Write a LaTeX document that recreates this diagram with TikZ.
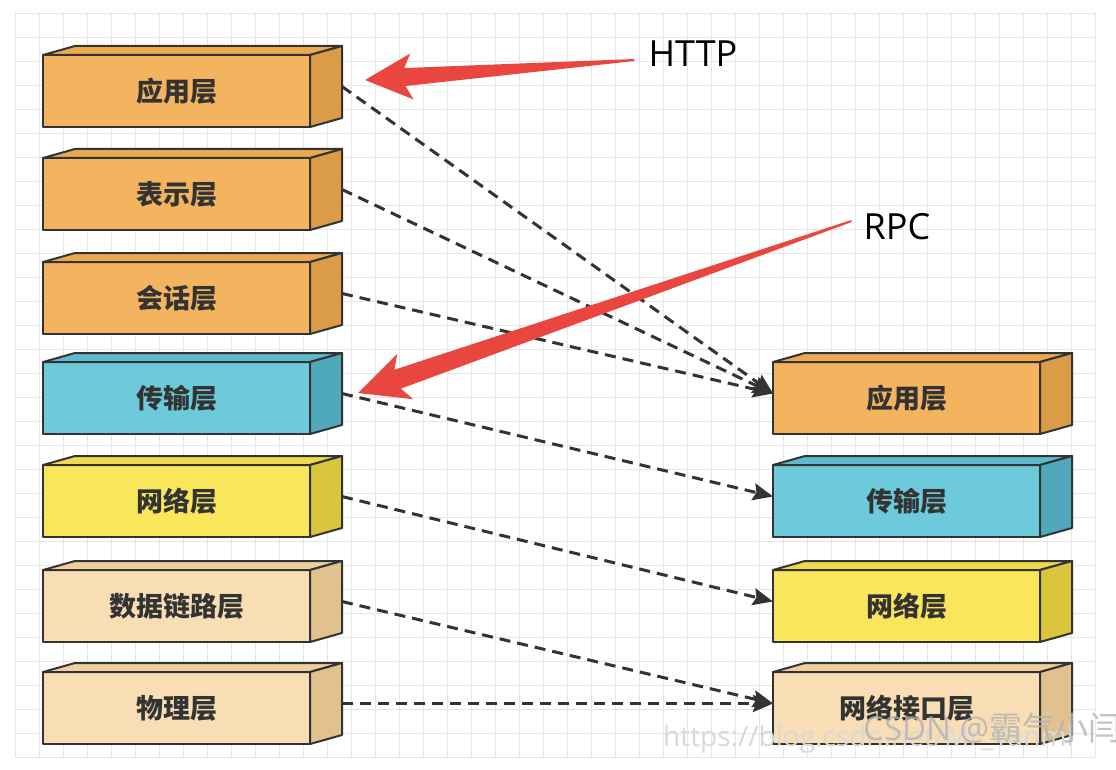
\documentclass[tikz,border=0pt]{standalone}
\usepackage{fontspec}
\usetikzlibrary{arrows.meta,calc}
\newfontfamily\cjk{Noto Sans CJK SC}
\newfontfamily\latin{Open Sans}
\definecolor{edge}{HTML}{333333}
\definecolor{gridc}{HTML}{E6E6E6}
\definecolor{redc}{HTML}{E8463F}
\definecolor{orfront}{HTML}{F4B45F}
\definecolor{ortop}{HTML}{EBA94F}
\definecolor{orside}{HTML}{DB9C47}
\definecolor{blfront}{HTML}{6DCADB}
\definecolor{bltop}{HTML}{5DBBCD}
\definecolor{blside}{HTML}{4FA9BA}
\definecolor{yefront}{HTML}{F9E65A}
\definecolor{yetop}{HTML}{EDD94B}
\definecolor{yeside}{HTML}{D9C63D}
\definecolor{befront}{HTML}{F8DDB5}
\definecolor{betop}{HTML}{EFCFA0}
\definecolor{beside}{HTML}{E1C28F}
\tikzset{
  gridline/.style={draw=gridc, line width=0.9pt},
  layerfront/.style={draw=edge, line width=2pt, line join=round, minimum width=267pt, minimum height=72pt,
    inner sep=0pt, outer sep=0pt, text=edge, font=\cjk\bfseries\fontsize{27}{30}\selectfont},
  boxedge/.style={draw=edge, line width=2pt, line join=round},
  conn/.style={draw=edge, line width=3pt, dash pattern=on 11pt off 7pt, -{Stealth[length=20pt,width=17pt,inset=3pt]}},
  redarr/.style={fill=redc},
  lbl/.style={text=black, font=\latin\fontsize{36}{40}\selectfont, inner sep=0pt},
}
\newcommand\layerbox[5]{%
  \node[layerfront, fill=#4front] (#1) at (#2,#3) {#5};
  \filldraw[boxedge, fill=#4top] (#1.north west) -- ++(32,-9) -- ($(#1.north east)+(32,-9)$) -- (#1.north east) -- cycle;
  \filldraw[boxedge, fill=#4side] (#1.north east) -- ++(32,-9) -- ($(#1.south east)+(32,-9)$) -- (#1.south east) -- cycle;
}
\newcommand\taperarrow[6]{% tail, tip, join dist, barb dist, shaft half, barb half
  \fill[redarr]
    ($(#1)!1pt!-90:(#2)$) --
    ($($(#2)!#3!(#1)$)!#5!90:(#1)$) --
    ($($(#2)!#4!(#1)$)!#6!90:(#1)$) --
    (#2) --
    ($($(#2)!#4!(#1)$)!#6!-90:(#1)$) --
    ($($(#2)!#3!(#1)$)!#5!-90:(#1)$) --
    ($(#1)!1pt!90:(#2)$) -- cycle;
}
\begin{document}
\begin{tikzpicture}[x=1pt,y=-1pt]
\useasboundingbox (0,0) rectangle (1116,770);
\fill[white] (0,0) rectangle (1116,770);
% grid
\foreach \i in {0,...,45} \draw[gridline] ({15+24*\i},13) -- ({15+24*\i},757);
\foreach \j in {0,...,31} \draw[gridline] (15,{13+24*\j}) -- (1095,{13+24*\j});
% left stack
\layerbox{L1}{176.5}{91}{or}{应用层}
\layerbox{L2}{176.5}{194}{or}{表示层}
\layerbox{L3}{176.5}{298}{or}{会话层}
\layerbox{L4}{176.5}{398}{bl}{传输层}
\layerbox{L5}{176.5}{501}{ye}{网络层}
\layerbox{L6}{176.5}{606}{be}{数据链路层}
\layerbox{L7}{176.5}{708}{be}{物理层}
% right stack
\layerbox{R1}{906.5}{398}{or}{应用层}
\layerbox{R2}{906.5}{501}{bl}{传输层}
\layerbox{R3}{906.5}{606}{ye}{网络层}
\layerbox{R4}{906.5}{708}{be}{网络接口层}
% connectors
\draw[conn] ($(L1.east)+(32,-4.5)$) -- ($(R1.west)+(0,-4.5)$);
\draw[conn] ($(L2.east)+(32,-4.5)$) -- ($(R1.west)+(0,-4.5)$);
\draw[conn] ($(L3.east)+(32,-4.5)$) -- ($(R1.west)+(0,-4.5)$);
\draw[conn] ($(L4.east)+(32,-4.5)$) -- ($(R2.west)+(0,-4.5)$);
\draw[conn] ($(L5.east)+(32,-4.5)$) -- ($(R3.west)+(0,-4.5)$);
\draw[conn] ($(L6.east)+(32,-4.5)$) -- ($(R4.west)+(0,-4.5)$);
\draw[conn] ($(L7.east)+(32,-4.5)$) -- ($(R4.west)+(0,-4.5)$);
% labels and red arrows
\node[lbl] (http) at (693,54) {HTTP};
\node[lbl] (rpc) at (897,227) {RPC};
\coordinate (httptail) at ($(http.west)+(-14,6)$);
\coordinate (httptip) at ($(L1.east)+(55,-11)$);
\coordinate (rpctail) at ($(rpc.west)+(-12,-6)$);
\coordinate (rpctip) at ($(L4.east)+(48,-5)$);
\taperarrow{httptail}{httptip}{40pt}{47pt}{9pt}{23pt}
\taperarrow{rpctail}{rpctip}{42pt}{50pt}{10pt}{24pt}
% watermark
\begin{scope}
\clip (0,0) rectangle (1116,770);
\node[anchor=base west, inner sep=0pt, text=gray!30, font=\latin\fontsize{28}{30}\selectfont] (url) at (663,746) {https://blog.csdn.net/Mr\_Yanml};
\node[anchor=base west, inner sep=0pt, text=gray!60, opacity=0.8, font=\fontsize{33}{35}\selectfont] (wm) at (863,740) {\latin CSDN @\cjk 霸气小闫};
\end{scope}
\end{tikzpicture}
\end{document}
